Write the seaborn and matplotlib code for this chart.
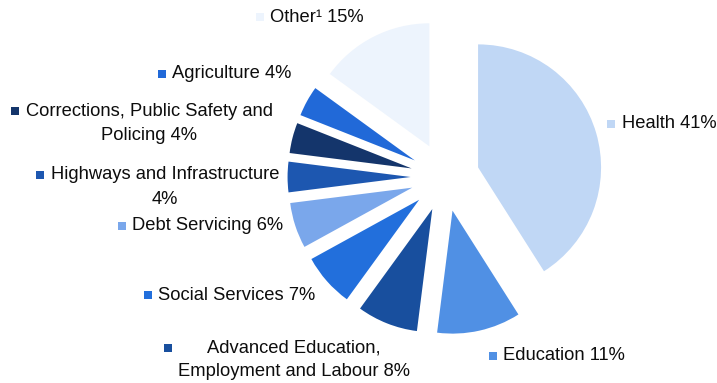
import matplotlib
matplotlib.use("Agg")
import matplotlib.pyplot as plt
import seaborn as sns

# Budget shares by program area (percent), in clockwise order from 12 o'clock
categories = [
    "Health",
    "Education",
    "Advanced Education,\nEmployment and Labour",
    "Social Services",
    "Debt Servicing",
    "Highways and Infrastructure",
    "Corrections, Public Safety and\nPolicing",
    "Agriculture",
    "Other\u00b9",
]
shares = [41, 11, 8, 7, 6, 4, 4, 4, 15]
# separator between the name and the percentage in each label
separators = [" ", " ", " ", " ", " ", "\n", " ", " ", " "]

palette = sns.color_palette([
    "#c0d7f5", "#5090e4", "#184f9e", "#226fdc", "#7aa7eb",
    "#1d57b0", "#14356b", "#2169d8", "#edf4fd",
])

sns.set_theme(style="white")
plt.rcParams["font.family"] = ["Liberation Sans", "DejaVu Sans"]

W, H = 717, 383
fig = plt.figure(figsize=(W / 100, H / 100), dpi=100)
ax = fig.add_axes([0, 0, 1, 1])

ax.pie(
    shares,
    colors=palette,
    startangle=90,
    counterclock=False,
    explode=[0.28] * len(shares),
    radius=1.0,
    wedgeprops=dict(linewidth=0),
)
# pie centre sits at (445, 177) px with a 123 px radius
scale = 123.0
cx, cy = 445.0, 177.0
ax.set_xlim(-cx / scale, (W - cx) / scale)
ax.set_ylim(-(H - cy) / scale, cy / scale)
ax.set_aspect("equal")
ax.axis("off")

# label block centre x and first-line y, in pixels from the top-left corner
label_pos = [
    (669, 124),
    (564, 356),
    (294, 348),
    (237, 295),
    (208, 226),
    (165, 175),
    (149, 111),
    (232, 74),
    (317, 17),
]
line_step = 24
fs = 13.2

fig.canvas.draw()
renderer = fig.canvas.get_renderer()

for name, sep, share, color, (px, py) in zip(categories, separators, shares, palette, label_pos):
    lines = f"{name}{sep}{share}%".split("\n")
    texts = []
    for i, line in enumerate(lines):
        t = ax.text(
            px / W, 1 - (py + i * line_step) / H, line,
            transform=ax.transAxes, ha="center", va="center",
            fontsize=fs, color="#0d0d0d",
        )
        texts.append(t)
    left = min(t.get_window_extent(renderer).x0 for t in texts)
    ax.scatter(
        [(left - 10.5) / W], [1 - py / H], marker="s", s=36,
        color=color, transform=ax.transAxes, linewidths=0, clip_on=False,
    )

fig.savefig("out.png", dpi=100)
